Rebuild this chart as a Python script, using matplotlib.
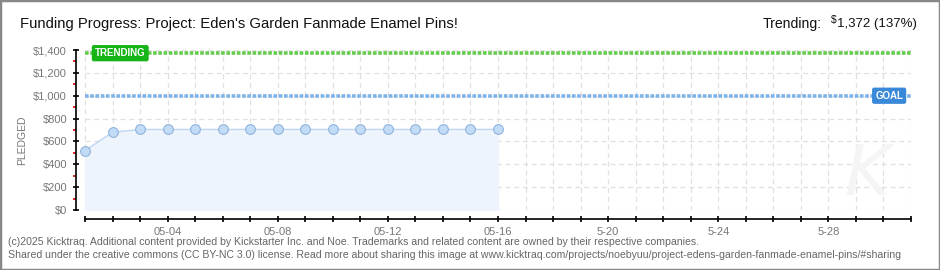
import matplotlib
matplotlib.use("Agg")
import matplotlib.pyplot as plt
from matplotlib.patches import Rectangle
from matplotlib.ticker import FixedLocator

# data
days = list(range(1, 17))
pledged = [520, 680, 705, 705, 705, 705, 705, 705, 705, 705, 705, 705, 705, 705, 705, 705]
goal = 1000
trending = 1372
last_day = 31
tick_days = [4, 8, 12, 16, 20, 24, 28]
tick_labels = ["05-04", "05-08", "05-12", "05-16", "5-20", "5-24", "5-28"]
y_ticks = [0, 200, 400, 600, 800, 1000, 1200, 1400]

plt.rcParams['font.family'] = ["Liberation Sans", "DejaVu Sans"]

W, H = 940, 270
fig = plt.figure(figsize=(W / 100, H / 100), dpi=100)
fig.patch.set_facecolor('white')
renderer = fig.canvas.get_renderer()


def fit(t, width_px):
    # shrink/grow a text so it spans width_px pixels
    for _ in range(3):
        w = t.get_window_extent(renderer).width
        t.set_fontsize(t.get_fontsize() * width_px / w)
    return t


ax = fig.add_axes([76 / W, (H - 210) / H, (911 - 76) / W, 160 / H])
ax.set_xlim(1 - 9 / 27.5, last_day)
ax.set_ylim(0, 1400)

# grid
for d in range(1, last_day + 1):
    ax.plot([d, d], [0, 1400], color='#e0e0e0', lw=0.9, ls=(0, (4, 3)), zorder=0)
for v in y_ticks:
    ax.plot([1, last_day], [v, v], color='#e0e0e0', lw=0.9, ls=(0, (4, 3)), zorder=0)

# watermark
ax.text(29.4, 300, "K", fontsize=50, style='italic', color='#f5f5f5',
        family='DejaVu Sans', ha='center', va='center', zorder=0)

# pledged series
ax.fill_between(days, pledged, 0, color='#eef4fc', zorder=1)
ax.plot(days, pledged, color='#bcd6f2', lw=1, zorder=2)
ax.plot(days, pledged, ls='none', marker='o', ms=7, mfc='#c2dcf8', mec='#8fb2dc',
        mew=0.8, zorder=3)

# goal / trending lines
ax.plot([1, last_day], [trending, trending], color='#66cc50', lw=2.6,
        ls=(0, (1, 0.45)), zorder=2, clip_on=False)
ax.plot([1, last_day], [goal, goal], color='#7fb2e8', lw=2.6,
        ls=(0, (1, 0.45)), zorder=2, clip_on=False)
ax.text(1.36, trending, "TRENDING", color='white', fontsize=7, fontweight='bold',
        va='center', ha='left', zorder=5, clip_on=False,
        bbox=dict(boxstyle='round,pad=0.25,rounding_size=0.15', fc='#16b416', ec='#16b416'))
ax.text(29.7, goal, "GOAL", color='white', fontsize=7, fontweight='bold',
        va='center', ha='left', zorder=5, clip_on=False,
        bbox=dict(boxstyle='round,pad=0.25,rounding_size=0.15', fc='#3a88d8', ec='#3a88d8'))

# axes styling
for s in ['top', 'right']:
    ax.spines[s].set_visible(False)
ax.spines['left'].set_bounds(0, 1400)
ax.spines['left'].set_linewidth(1.2)
ax.spines['bottom'].set_position(('outward', 6.5))
ax.spines['bottom'].set_bounds(1, last_day)
ax.spines['bottom'].set_linewidth(1.2)

ax.set_yticks(y_ticks)
ax.set_yticklabels(["$" + format(v, ",") for v in y_ticks], color='#777777', fontsize=8)
ax.yaxis.set_minor_locator(FixedLocator([100, 300, 500, 700, 900, 1100, 1300]))
ax.tick_params(axis='y', which='major', direction='inout', length=5, width=1.2, pad=4)
ax.tick_params(axis='y', which='minor', direction='out', length=2.5, width=1.2, color='#dd0000')

ax.set_xticks(range(1, last_day + 1))
ax.set_xticklabels([tick_labels[tick_days.index(d)] if d in tick_days else ""
                    for d in range(1, last_day + 1)], color='#777777', fontsize=8)
ax.tick_params(axis='x', direction='inout', length=5, width=1.2, pad=3)

fig.text(22 / W, 130 / H, "PLEDGED", rotation=90, color='#777777', fontsize=7.5,
         ha='center', va='center')

# header
fit(fig.text(20 / W, (H - 24) / H, "Funding Progress: Project: Eden's Garden Fanmade Enamel Pins!",
             fontsize=12, color='#111111', ha='left', va='center'), 438)
fit(fig.text(822 / W, (H - 24) / H, "Trending:", fontsize=12, color='#111111',
             ha='right', va='center'), 59)
fig.text(831 / W, (H - 20) / H, "$", fontsize=7.5, color='#111111', ha='left', va='center')
fit(fig.text(837 / W, (H - 24) / H, "1,372 (137%)", fontsize=12, color='#111111',
             ha='left', va='center'), 80)

# footer
fit(fig.text(8 / W, (H - 242) / H,
             "(c)2025 Kicktraq. Additional content provided by Kickstarter Inc. and Noe. "
             "Trademarks and related content are owned by their respective companies.",
             fontsize=7, color='#666666', ha='left', va='center'), 690)
fit(fig.text(8 / W, (H - 255) / H,
             "Shared under the creative commons (CC BY-NC 3.0) license. Read more about sharing "
             "this image at www.kicktraq.com/projects/noebyuu/project-edens-garden-fanmade-enamel-pins/#sharing",
             fontsize=7, color='#666666', ha='left', va='center'), 895)

# outer frame
fig.patches.append(Rectangle((0, 0), 1, 1, transform=fig.transFigure, fill=False,
                             ec='#888888', lw=2.5))

fig.savefig("out.png", dpi=100)
